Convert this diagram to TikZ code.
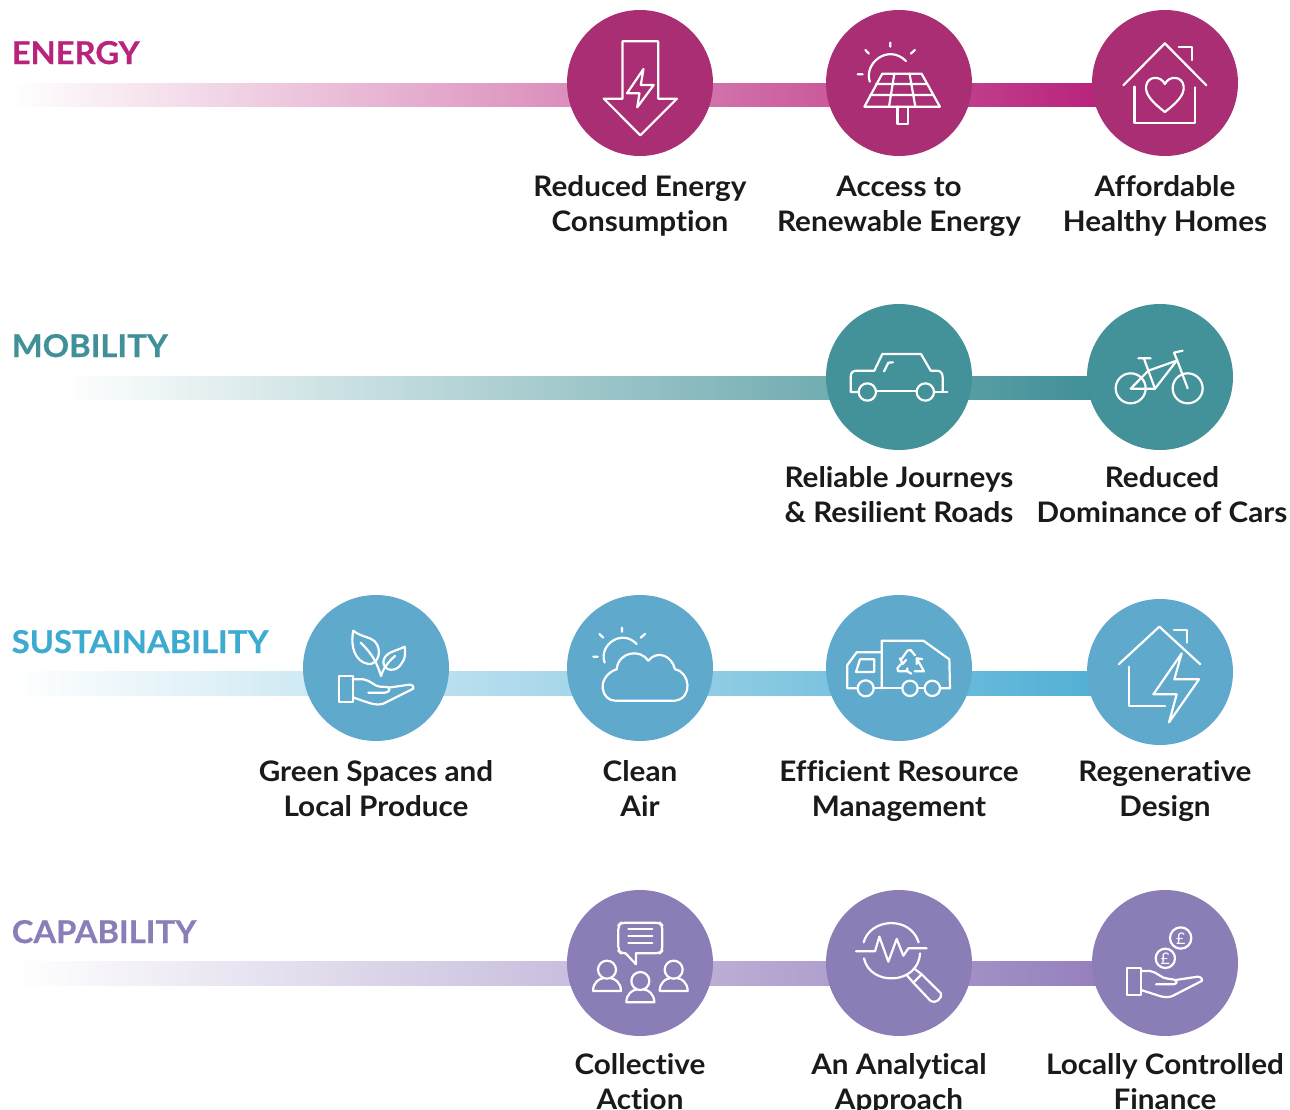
\documentclass[tikz,border=0pt]{standalone}
\usepackage{fontspec}
\setmainfont{Lato}[Ligatures={NoCommon},BoldFeatures={FakeStretch=1.05}]
\newfontfamily\headf{Lato}[Ligatures={NoCommon},BoldFeatures={FakeBold=0.5,FakeStretch=1.04}]
\usetikzlibrary{positioning}
\definecolor{enC}{HTML}{A92E74}\definecolor{enB}{HTML}{B8237C}
\definecolor{moC}{HTML}{439199}\definecolor{moB}{HTML}{3F8F96}\definecolor{moT}{HTML}{3F9098}
\definecolor{suC}{HTML}{5EA9CC}\definecolor{suB}{HTML}{52B0D5}\definecolor{suT}{HTML}{3DAAD0}
\definecolor{caC}{HTML}{8B7DB5}\definecolor{caB}{HTML}{9580BD}\definecolor{caT}{HTML}{8B7DB8}
\definecolor{caM}{HTML}{C0B6DB}
\definecolor{txt}{HTML}{1A1A1A}
\newcommand{\twoln}[2]{\strut #1\\\strut #2}
\tikzset{
 x=.75pt,y=-.75pt,
 disc/.style={circle,minimum size=109.5pt,inner sep=0pt,fill=#1},
 lbl/.style={align=center,inner sep=0pt,text=txt,font=\fontsize{21.2}{26.25}\selectfont\bfseries},
 head/.style={anchor=base west,inner sep=0pt,text=#1,font=\headf\fontsize{23.6}{26}\selectfont\bfseries},
 ico/.style={draw=white,line width=1.65pt,line join=round,line cap=round},
 zm/.style 2 args={shift={(#1*.75pt,-#2*.75pt)},x=.25pt,y=-.25pt},
 zmw/.style 2 args={shift={(#1*.75pt,-#2*.75pt)},x=.3348pt,y=-.25pt},
}
\begin{document}
\begin{tikzpicture}
\clip (0,0) rectangle (1290,1110);
\useasboundingbox (0,0) rectangle (1290,1110);
% bars
\coordinate (b1a) at (12,83);\coordinate (b1b) at (1100,106);
\coordinate (b2a) at (62,376);\coordinate (b2b) at (1100,399);
\coordinate (b3a) at (12,671);\coordinate (b3b) at (1095,695);
\coordinate (b4a) at (12,961);\coordinate (b4b) at (1100,985);
\shade[left color=white,right color=enB] (b1a) rectangle (b1b);
\shade[left color=white,right color=moB] (b2a) rectangle (b2b);
\shade[left color=white,right color=suB] (b3a) rectangle (b3b);
\shade[left color=white,middle color=caM,right color=caB] (b4a) rectangle (b4b);
% discs
\node[disc=enC] (e1) at (640,83) {};
\node[disc=enC] (e2) at (899,83) {};
\node[disc=enC] (e3) at (1165,83) {};
\node[disc=moC] (m1) at (899,377) {};
\node[disc=moC] (m2) at (1160,377) {};
\node[disc=suC] (s1) at (376,668) {};
\node[disc=suC] (s2) at (640,668) {};
\node[disc=suC] (s3) at (899,668) {};
\node[disc=suC] (s4) at (1160,672) {};
\node[disc=caC] (c1) at (640,963) {};
\node[disc=caC] (c2) at (899,963) {};
\node[disc=caC] (c3) at (1165,963) {};
% headings
\node[head=enB] (hE) at (11.5,64) {ENERGY};
\node[head=moT] (hM) at (11.5,357) {MOBILITY};
\node[head=suT] (hS) at (11.5,653) {SUSTAINABILITY};
\node[head=caT] (hC) at (11.5,943) {CAPABILITY};
% labels
\node[lbl] (le1) at (640,206.5) {\twoln{Reduced Energy}{Consumption}};
\node[lbl] (le2) at (899,206.5) {\twoln{Access to}{Renewable Energy}};
\node[lbl] (le3) at (1165,206.5) {\twoln{Affordable}{Healthy Homes}};
\node[lbl] (lm1) at (899,497.5) {\twoln{Reliable Journeys}{\& Resilient Roads}};
\node[lbl] (lm2) at (1162,497.5) {\twoln{Reduced}{Dominance of Cars}};
\node[lbl] (ls1) at (376,791.5) {\twoln{Green Spaces and}{Local Produce}};
\node[lbl] (ls2) at (640,791.5) {\twoln{Clean}{Air}};
\node[lbl] (ls3) at (899,791.5) {\twoln{Efficient Resource}{Management}};
\node[lbl] (ls4) at (1165,791.5) {\twoln{Regenerative}{Design}};
\node[lbl] (lc1) at (640,1084.5) {\twoln{Collective}{Action}};
\node[lbl] (lc2) at (899,1084.5) {\twoln{An Analytical}{Approach}};
\node[lbl] (lc3) at (1165,1084.5) {\twoln{Locally Controlled}{Finance}};
% ENERGY icons
\begin{scope}[zmw={560}{0}]
\draw[ico] (140,124)--(220,124)--(220,296)--(262,296)--(180,406)--(98,296)--(140,296)--cycle;
\draw[ico] (187,207)--(150,280)--(178,280)--(173,322)--(210,255)--(181,255)--cycle;
% solar
\draw[ico] (740,128)--(740,140) (684,150)--(692,161) (795,150)--(786,161) (667,223)--(678,223);
\draw[ico] (694,245) .. controls (680,190) and (735,130) .. (775,183);
\draw[ico] (722,221)--(810,221)--(851,320)--(682,320)--cycle;
\draw[ico] (708,252)--(823,252) (695,285)--(837,285) (749,221)--(737,320) (783,221)--(796,320);
\draw[ico] (756,320)--(756,373)--(780,373)--(780,320);
% house
\draw[ico] (1262,256)--(1355,130)--(1448,256);
\draw[ico] (1287,260)--(1287,370)--(1423,370)--(1423,262);
\draw[ico] (1386,140)--(1415,140)--(1415,180);
\draw[ico] (1355,336) .. controls (1330,310) and (1310,285) .. (1313,258) .. controls (1316,228) and (1345,225) .. (1355,252) .. controls (1365,225) and (1394,228) .. (1397,258) .. controls (1400,285) and (1380,310) .. (1355,336);
\end{scope}
% MOBILITY icons
\begin{scope}[zm={820}{300}]
\draw[ico] (118,276)--(92,276)--(92,232) .. controls (92,218) and (98,212) .. (110,212)--(163,212)--(187,162)--(303,162)--(332,212)--(350,212) .. controls (362,212) and (368,220) .. (368,232)--(368,275);
\draw[ico] (168,274)--(290,274) (343,275)--(382,275);
\draw[ico] (142,276) circle[radius=26] (316,276) circle[radius=26];
\draw[ico] (192,214)--(205,188)--(219,187);
\draw[ico] (932,265) circle[radius=45] (1103,265) circle[radius=45];
\draw[ico] (932,266)--(1005,266)--(1070,182)--(985,212)--(932,266);
\draw[ico] (985,212)--(1005,266) (972,176)--(985,212) (955,175)--(992,175);
\draw[ico] (1088,152)--(1062,158)--(1072,182)--(1103,265);
\end{scope}
% SUSTAINABILITY icons
\begin{scope}[zm={300}{590}]
\draw[ico] (160,122) .. controls (150,170) and (165,215) .. (205,222) .. controls (235,225) and (248,180) .. (225,155) .. controls (210,140) and (180,140) .. (160,122);
\draw[ico] (182,158) .. controls (215,190) and (230,215) .. (243,258);
\draw[ico] (314,170) .. controls (285,185) and (255,185) .. (250,215) .. controls (250,245) and (290,248) .. (305,220) .. controls (318,205) and (316,185) .. (314,170);
\draw[ico] (243,258) .. controls (250,235) and (265,215) .. (285,198);
\draw[ico] (116,257) rectangle (158,337);
\draw[ico] (158,268)--(190,268) .. controls (210,270) and (225,290) .. (240,290)--(262,291) .. controls (272,296) and (270,306) .. (255,308)--(205,308);
\draw[ico] (265,293)--(328,284) .. controls (338,284) and (344,292) .. (340,296)--(262,335) .. controls (245,347) and (225,345) .. (205,338)--(158,322);
% cloud
\draw[ico] (966,113)--(966,125) (898,132)--(910,143) (1035,132)--(1022,143) (880,200)--(893,200);
\draw[ico] (914,218) .. controls (895,165) and (965,115) .. (1010,162);
\draw[ico] (945,332)--(1125,332) .. controls (1180,325) and (1170,245) .. (1125,238) .. controls (1115,195) and (1070,180) .. (1045,212) .. controls (1020,175) and (955,185) .. (950,238) .. controls (925,245) and (905,270) .. (908,295) .. controls (910,315) and (925,332) .. (945,332);
\end{scope}
\begin{scope}[zm={820}{590}]
% truck
\draw[ico] (110,295)--(82,295)--(82,225)--(110,187)--(185,187);
\draw[ico] (185,295)--(185,152)--(310,152)--(388,208)--(390,295)--(362,295);
\draw[ico] (163,295)--(245,295) (295,295)--(312,295);
\draw[ico] (137,295) circle[radius=24] (270,295) circle[radius=23] (337,295) circle[radius=23];
\draw[ico] (120,208)--(163,208)--(163,246)--(108,246)--cycle;
\draw[ico] (248,222)--(240,205) (248,222)--(258,210) (244,208)--(262,182)--(272,180)--(285,196);
\draw[ico] (290,222)--(290,205)--(307,207) (290,205)--(312,244)--(284,244);
\draw[ico] (262,244)--(235,244)--(232,235)--(243,222) (262,244)--(262,235) (262,244)--(274,251);
% regenerative
\draw[ico] (897,222)--(1018,110)--(1140,222);
\draw[ico] (1062,120)--(1100,120)--(1100,158);
\draw[ico] (927,230)--(927,347)--(1035,347);
\draw[ico] (1085,190)--(1000,313)--(1070,313)--(1047,397)--(1137,268)--(1063,268)--cycle;
\end{scope}
% CAPABILITY icons
\begin{scope}[zm={560}{885}]
\draw[ico,rounded corners=3pt] (197,205)--(183,205)--(175,197)--(175,121)--(183,113)--(299,113)--(307,121)--(307,197)--(299,205)--(228,205);
\draw[ico] (197,205)--(228,238)--(228,205);
\draw[ico] (205,133)--(277,133) (205,153)--(277,153) (205,173)--(277,173);
\foreach \cx/\by in {141/318,241/352,341/318}{
 \draw[ico] (\cx,\by-64) circle[radius=27];
 \draw[ico] (\cx-42,\by) .. controls (\cx-42,\by-26) and (\cx-22,\by-38) .. (\cx-12,\by-38) (\cx+12,\by-38) .. controls (\cx+22,\by-38) and (\cx+42,\by-26) .. (\cx+42,\by)--(\cx-42,\by);
}
% analytical
\draw[ico] (911,172) .. controls (930,100) and (1050,90) .. (1076,172);
\draw[ico] (912,220) .. controls (930,305) and (1075,300) .. (1080,205);
\draw[ico] (888,199)--(945,199)--(958,155)--(985,230)--(1010,162)--(1030,212)--(1045,190)--(1100,190);
\draw[ico] (1040,270)--(1060,293)--(1112,348) .. controls (1125,358) and (1148,340) .. (1143,325)--(1085,268)--(1062,250);
\draw[ico] (1060,293)--(1085,268);
\end{scope}
\begin{scope}[zm={1085}{885}]
\draw[ico] (287,159) circle[radius=32] (241,220) circle[radius=29];
\node[inner sep=0pt,text=white,font=\fontsize{12}{12}\selectfont] (pA) at (287,160) {£};
\node[inner sep=0pt,text=white,font=\fontsize{12}{12}\selectfont] (pB) at (241,221) {£};
\draw[ico] (126,250) rectangle (168,330);
\draw[ico] (168,258)--(195,258) .. controls (215,260) and (230,281) .. (248,281)--(268,284) .. controls (280,290) and (275,298) .. (262,298)--(213,298);
\draw[ico] (272,285)--(338,275) .. controls (348,275) and (354,284) .. (350,288)--(272,328) .. controls (255,340) and (235,338) .. (215,330)--(168,315);
\end{scope}
\end{tikzpicture}
\end{document}
